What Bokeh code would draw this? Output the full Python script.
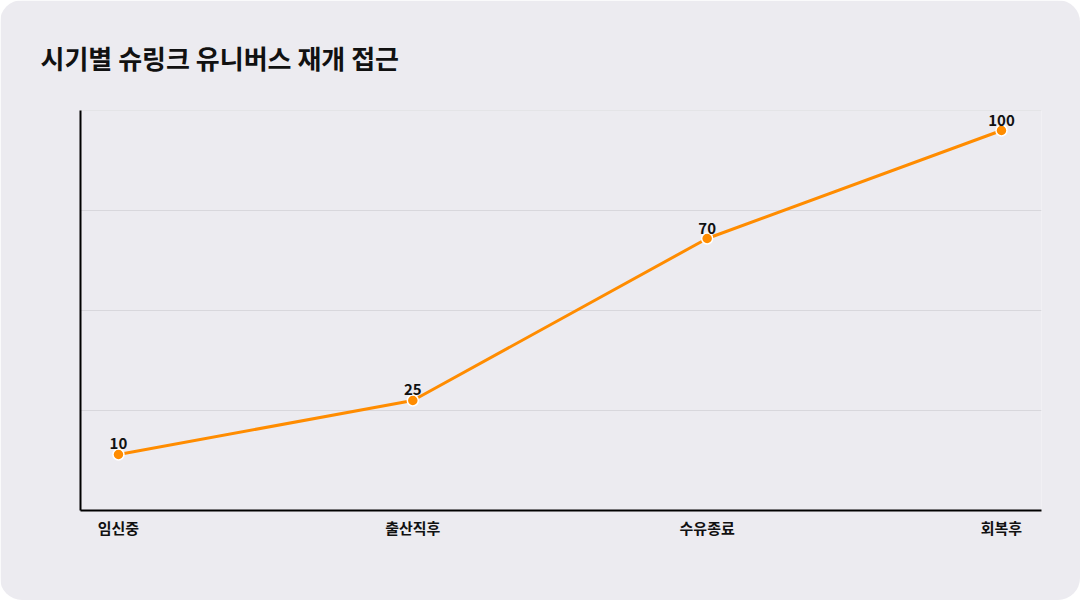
from bokeh.plotting import figure
from bokeh.models import Range1d, FixedTicker, ColumnDataSource, LabelSet
from bokeh.core.properties import value
from bokeh.embed import file_html
from bokeh.resources import INLINE

title = "시기별 슈링크 유니버스 재개 접근"
categories = ["임신중", "출산직후", "수유종료", "회복후"]
values = [10, 25, 70, 100]

FONT = "Noto Sans CJK KR"
BG = "#ECEBF0"
ORANGE = "#FF8C00"

xs = list(range(len(categories)))
src = ColumnDataSource(dict(x=xs, y=values, lbl=[str(v) for v in values]))

p = figure(width=1080, height=600, output_backend="svg", toolbar_location=None,
           x_range=Range1d(-0.129, 3.136), y_range=Range1d(-5.556, 105.556),
           min_border_left=80, min_border_right=39, min_border_top=110, min_border_bottom=90,
           title=title)
p.background_fill_color = BG
p.border_fill_color = BG
p.outline_line_color = None
p.styles = {"border-radius": "22px", "overflow": "hidden"}

p.title.text_font = FONT
p.title.text_font_style = "bold"
p.title.text_font_size = "26px"
p.title.text_color = "#111111"
p.title.align = "left"
p.title.offset = -40
p.title.standoff = 70

p.xgrid.grid_line_color = None
p.ygrid.grid_line_color = "#D8D7DC"
p.ygrid.grid_line_width = 1
p.ygrid.ticker = FixedTicker(ticks=[22.22, 50.0, 77.78, 105.5])
p.yaxis.ticker = FixedTicker(ticks=[])
p.yaxis.major_tick_line_color = None
p.yaxis.minor_tick_line_color = None
p.yaxis.axis_line_width = 2
p.yaxis.axis_line_color = "#000000"

p.xaxis.ticker = FixedTicker(ticks=xs)
p.xaxis.major_label_overrides = {i: c for i, c in enumerate(categories)}
p.xaxis.major_tick_line_color = None
p.xaxis.minor_tick_line_color = None
p.xaxis.axis_line_width = 2
p.xaxis.axis_line_color = "#000000"
p.xaxis.major_label_text_font = FONT
p.xaxis.major_label_text_font_style = "bold"
p.xaxis.major_label_text_font_size = "15px"
p.xaxis.major_label_text_color = "#111111"
p.xaxis.major_label_standoff = 0

p.line("x", "y", source=src, line_color=ORANGE, line_width=3)
p.scatter("x", "y", source=src, size=11, fill_color=ORANGE, line_color="white", line_width=1.5)

labels = LabelSet(x="x", y="y", text="lbl", source=src, y_offset=5,
                  text_align="center", text_baseline="bottom",
                  text_font=value(FONT), text_font_style="bold", text_font_size="15px",
                  text_color="#111111")
p.add_layout(labels)

open("out.html", "w").write(file_html(p, INLINE))
